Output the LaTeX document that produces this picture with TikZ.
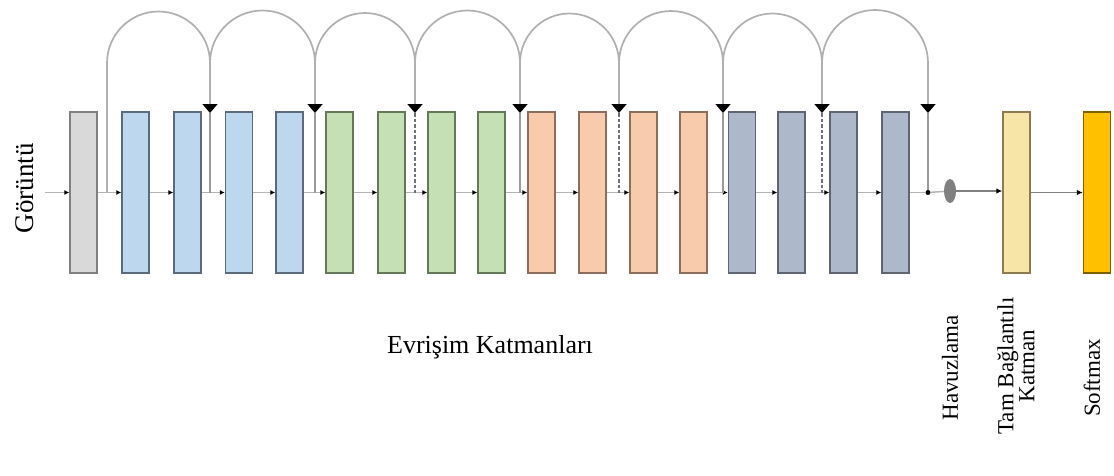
\documentclass[tikz,border=0pt]{standalone}
\usepackage{fontspec}
\setmainfont{Liberation Serif}
\usetikzlibrary{arrows.meta,shapes.geometric}
\definecolor{gfill}{HTML}{D9D9D9}\definecolor{gdraw}{HTML}{808080}
\definecolor{bfill}{HTML}{BDD7EE}\definecolor{bdraw}{HTML}{5B6B7B}
\definecolor{grfill}{HTML}{C5E0B4}\definecolor{grdraw}{HTML}{65785A}
\definecolor{ofill}{HTML}{F8CBAD}\definecolor{odraw}{HTML}{8C6E5E}
\definecolor{sfill}{HTML}{ADB9CA}\definecolor{sdraw}{HTML}{5E6570}
\definecolor{ffill}{HTML}{F6E5A6}\definecolor{fdraw}{HTML}{8C7A50}
\definecolor{xfill}{HTML}{FFC000}\definecolor{xdraw}{HTML}{7F6000}
\definecolor{linegray}{HTML}{B4B4B4}
\definecolor{arcgray}{HTML}{B0B0B0}
\definecolor{leggray}{HTML}{9A9A9A}
\definecolor{dashgray}{HTML}{6E7080}
\begin{document}
\begin{tikzpicture}[x=1pt,y=-1pt,
  layer/.style={rectangle,minimum width=27pt,minimum height=161pt,inner sep=0pt,line width=1.4pt},
  lgray/.style={layer,fill=gfill,draw=gdraw},
  lblue/.style={layer,fill=bfill,draw=bdraw},
  lgreen/.style={layer,fill=grfill,draw=grdraw},
  lorange/.style={layer,fill=ofill,draw=odraw},
  lslate/.style={layer,fill=sfill,draw=sdraw},
  lfc/.style={layer,fill=ffill,draw=fdraw},
  lsoft/.style={layer,fill=xfill,draw=xdraw},
  flow/.style={draw=linegray,line width=1.5pt,-{Latex[length=5pt,width=5pt,color=black]}},
  darkflow/.style={draw=gdraw,line width=1.6pt,-{Latex[length=6pt,width=5.5pt,color=black]}},
  plainline/.style={draw=linegray,line width=1.5pt},
  skiparc/.style={draw=arcgray,line width=1.7pt,-{Triangle[length=9pt,width=15pt,color=black]}},
  legsolid/.style={draw=leggray,line width=1.7pt},
  legdash/.style={draw=dashgray,line width=1.7pt,dash pattern=on 3.5pt off 2pt},
  lbl/.style={inner sep=0pt,font=\fontsize{23}{24}\selectfont}
]
\useasboundingbox (0,0) rectangle (1114,475);

% layers
\node[lgray]   (b1)  at (83.5,192.5) {};
\node[lblue]   (b2)  at (135.5,192.5) {};
\node[lblue]   (b3)  at (187.5,192.5) {};
\node[lblue]   (b4)  at (239,192.5) {};
\node[lblue]   (b5)  at (289.5,192.5) {};
\node[lgreen]  (b6)  at (339.5,192.5) {};
\node[lgreen]  (b7)  at (391.5,192.5) {};
\node[lgreen]  (b8)  at (441.5,192.5) {};
\node[lgreen]  (b9)  at (491.5,192.5) {};
\node[lorange] (b10) at (541.5,192.5) {};
\node[lorange] (b11) at (592.5,192.5) {};
\node[lorange] (b12) at (643.5,192.5) {};
\node[lorange] (b13) at (693.5,192.5) {};
\node[lslate]  (b14) at (742,192.5) {};
\node[lslate]  (b15) at (791.5,192.5) {};
\node[lslate]  (b16) at (843.5,192.5) {};
\node[lslate]  (b17) at (895.5,192.5) {};
\node[lfc]     (fc)  at (1016.5,192.5) {};
\node[lsoft]   (sm)  at (1097,192.5) {};
\node[ellipse,fill=gdraw,minimum width=12pt,minimum height=24pt,inner sep=0pt] (pool) at (950,191) {};

% main flow
\coordinate (in) at (45,192.5);
\draw[flow] (in) -- (b1.west);
\draw[flow] (b1.east) -- (b2.west);
\draw[flow] (b2.east) -- (b3.west);
\draw[flow] (b3.east) -- (b4.west);
\draw[flow] (b4.east) -- (b5.west);
\draw[flow] (b5.east) -- (b6.west);
\draw[flow] (b6.east) -- (b7.west);
\draw[flow] (b7.east) -- (b8.west);
\draw[flow] (b8.east) -- (b9.west);
\draw[flow] (b9.east) -- (b10.west);
\draw[flow] (b10.east) -- (b11.west);
\draw[flow] (b11.east) -- (b12.west);
\draw[flow] (b12.east) -- (b13.west);
\draw[flow] (b13.east) -- (b14.west);
\draw[flow] (b14.east) -- (b15.west);
\draw[flow] (b15.east) -- (b16.west);
\draw[flow] (b16.east) -- (b17.west);

% skip points
\coordinate (s0) at (107,192.5);
\coordinate (s1) at (210,192.5);
\coordinate (s2) at (315,192.5);
\coordinate (s3) at (415,192.5);
\coordinate (s4) at (520,192.5);
\coordinate (s5) at (619,192.5);
\coordinate (s6) at (723,192.5);
\coordinate (s7) at (822,192.5);
\coordinate (s8) at (928,192.5);

\node[circle,fill=black,inner sep=0pt,minimum size=5pt] (j) at (s8) {};
\draw[plainline] (b17.east) -- (j);
\draw[plainline] (j) -- (pool);
\draw[darkflow] (pool.east) -- (pool.east -| fc.west);
\draw[darkflow] (fc.east) -- (sm.west);

% skip arcs
\draw[skiparc] (s0) -- (107,63) arc[start angle=180,end angle=0,radius=51.5pt] -- (s1 |- 0,113);
\draw[skiparc] (s1 |- 0,63) arc[start angle=180,end angle=0,radius=52.5pt] -- (s2 |- 0,113);
\draw[skiparc] (s2 |- 0,63) arc[start angle=180,end angle=0,radius=50pt] -- (s3 |- 0,113);
\draw[skiparc] (s3 |- 0,63) arc[start angle=180,end angle=0,radius=52.5pt] -- (s4 |- 0,113);
\draw[skiparc] (s4 |- 0,63) arc[start angle=180,end angle=0,radius=49.5pt] -- (s5 |- 0,113);
\draw[skiparc] (s5 |- 0,63) arc[start angle=180,end angle=0,radius=52pt] -- (s6 |- 0,113);
\draw[skiparc] (s6 |- 0,63) arc[start angle=180,end angle=0,radius=49.5pt] -- (s7 |- 0,113);
\draw[skiparc] (s7 |- 0,63) arc[start angle=180,end angle=0,radius=53pt] -- (s8 |- 0,113);

% lower legs
\draw[legsolid] (s1 |- 0,113) -- (s1);
\draw[legsolid] (s2 |- 0,113) -- (s2);
\draw[legdash]  (s3 |- 0,113) -- (s3);
\draw[legsolid] (s4 |- 0,113) -- (s4);
\draw[legdash]  (s5 |- 0,113) -- (s5);
\draw[legsolid] (s6 |- 0,113) -- (s6);
\draw[legdash]  (s7 |- 0,113) -- (s7);
\draw[legsolid] (s8 |- 0,113) -- (j);

% labels
\node[lbl,font=\fontsize{27}{28}\selectfont,rotate=90] (tin) at (25,188) {Görüntü};
\node[lbl,font=\fontsize{26}{27}\selectfont] (tconv) at (490,347) {Evrişim Katmanları};
\node[lbl,rotate=90] (tpool) at (950,368) {Havuzlama};
\node[lbl,rotate=90,align=center,font=\fontsize{23}{21}\selectfont] (tfc) at (1016,366) {Tam Bağlantılı\\Katman};
\node[lbl,rotate=90] (tsm) at (1092,378) {Softmax};
\end{tikzpicture}
\end{document}
